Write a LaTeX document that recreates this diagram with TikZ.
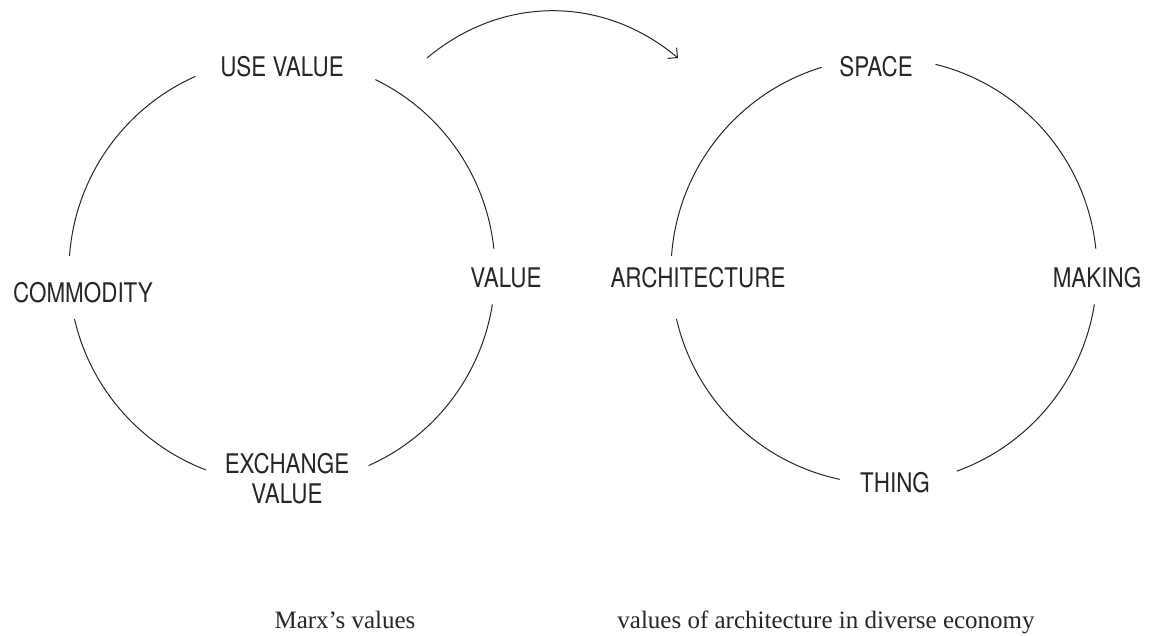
\documentclass[tikz,border=0pt]{standalone}
\usepackage{fontspec}
\setmainfont{Liberation Serif}
\newfontfamily\labelfont[FakeStretch=0.83]{TeX Gyre Heros}
\usepackage{tikz}
\usetikzlibrary{arrows,arrows.meta,positioning}

\begin{document}
\begin{tikzpicture}[->,>={Straight Barb[length=7pt,width=14pt,line width=1pt]},x=1pt,y=1pt,line width=1pt,draw=black!85]

    \tikzstyle{term}=[inner sep=0pt,text=black!85,align=center,font=\labelfont\fontsize{27}{30}\selectfont]
    \tikzstyle{caption}=[inner sep=0pt,anchor=base,text=black!85,font=\fontsize{25}{28}\selectfont]
    \tikzstyle{ring}=[-]

    \useasboundingbox (0,0) rectangle (1151,635);

    \coordinate (marx) at (282,364);
    \coordinate (arch) at (884,364);

    \node[term] (use)       at (282,568) {USE VALUE};
    \node[term] (commodity) at (83,342)  {COMMODITY};
    \node[term] (value)     at (506,357) {VALUE};
    \node[term] (exchange)  at (287,156) {EXCHANGE\\VALUE};

    \node[term] (space)     at (876,568) {SPACE};
    \node[term] (architecture) at (698,357) {ARCHITECTURE};
    \node[term] (making)    at (1097,357) {MAKING};
    \node[term] (thing)     at (895,152) {THING};

    \foreach \a/\b in {114/176, 193/249, 294/351, 6/64}
      \draw[ring] ([shift={(\a:213)}]marx) arc[start angle=\a, end angle=\b, radius=213];
    \foreach \a/\b in {107/176, 193/258, 290/351, 6/76}
      \draw[ring] ([shift={(\a:213)}]arch) arc[start angle=\a, end angle=\b, radius=213];

    \coordinate (from) at (427,577);
    \coordinate (to)   at (678,577);
    \path (from) edge[bend left=40] (to);

    \node[caption] (marxcap) at (345,7) {Marx’s values};
    \node[caption] (archcap) at (826,7) {values of architecture in diverse economy};
\end{tikzpicture}
\end{document}
